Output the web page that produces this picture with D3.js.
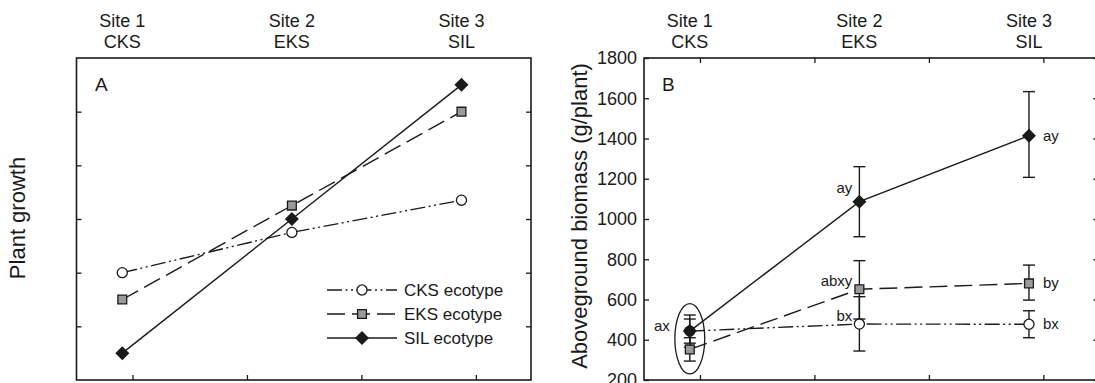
<!DOCTYPE html>
<html>
<head>
<meta charset="utf-8">
<script src="https://cdn.jsdelivr.net/npm/d3@7"></script>
<style>
  body { margin: 0; background: #fff; }
  text { font-family: "Liberation Sans", Arial, sans-serif; fill: #1a1a1a; }
</style>
</head>
<body>
<svg id="chart" width="1095" height="383"></svg>
<script>
// ---- data ----
const sites = [1, 2, 3];
const siteLine1 = ["Site 1", "Site 2", "Site 3"];
const siteLine2 = ["CKS", "EKS", "SIL"];
const ecotypes = ["CKS ecotype", "EKS ecotype", "SIL ecotype"];
const xTicks = [1.06, 1.735, 2.41, 3.085];

// panel A: conceptual plant growth (no units)
const growthCKS = [2.0, 2.75, 3.35];
const growthEKS = [1.5, 3.25, 5.0];
const growthSIL = [0.5, 3.0, 5.5];
const growthTicks = [1, 2, 3, 4, 5];

// panel B: aboveground biomass (g/plant), mean with error bar ends
const massCKS = [443, 478, 477];
const massEKS = [352, 651, 680];
const massSIL = [443, 1086, 1414];
const lowCKS = [383, 344, 410], highCKS = [503, 614, 544];
const lowEKS = [294, 503, 597], highEKS = [410, 793, 771];
const lowSIL = [363, 912, 1207], highSIL = [523, 1260, 1633];
const lettersCKS = ["", "bx", "bx"];
const lettersEKS = ["", "abxy", "by"];
const lettersSIL = ["ax", "ay", "ay"];
const massTicks = [200, 400, 600, 800, 1000, 1200, 1400, 1600, 1800];
// ellipse around site 1 (centre value, half height in g/plant)
const ringMass = [405, 175];

// ---- layout ----
const svg = d3.select("#chart");
const boxTop = 58, boxBottom = 380;
const ink = "#1a1a1a";

const styles = [
  {dash: "15,3.5,2,3.5,2,3.5", shape: "circle", fill: "#fff"},
  {dash: "18,7", shape: "square", fill: "#9a9a9a"},
  {dash: null, shape: "diamond", fill: ink}
];

function marker(sel, shape, fill) {
  let sym;
  if (shape === "circle") sym = d3.symbol(d3.symbolCircle, 80);
  else if (shape === "square") sym = d3.symbol(d3.symbolSquare, 78);
  else sym = d3.symbol(d3.symbolSquare, 74);
  sel.append("path")
    .attr("d", sym())
    .attr("transform", shape === "diamond" ? "rotate(45)" : null)
    .attr("fill", fill)
    .attr("stroke", ink)
    .attr("stroke-width", 1.3);
}

function panel(left, right, y, ticks, showYLabels) {
  const x = d3.scaleLinear().domain([0.73, 3.41]).range([left, right]);
  const g = svg.append("g");

  // inward ticks
  const bot = g.append("g").attr("transform", `translate(0,${boxBottom})`)
    .call(d3.axisTop(x).tickValues(xTicks).tickSize(5).tickFormat(""));
  const lft = g.append("g").attr("transform", `translate(${left},0)`)
    .call(d3.axisLeft(y).tickValues(ticks).tickSizeInner(-5).tickSizeOuter(0)
      .tickPadding(7).tickFormat(showYLabels ? d3.format("d") : ""));
  const rgt = g.append("g").attr("transform", `translate(${right},0)`)
    .call(d3.axisLeft(y).tickValues(ticks).tickSize(5).tickFormat(""));
  const axes = [bot, lft, rgt];
  if (showYLabels) {
    axes.push(g.append("g").attr("transform", `translate(0,${boxTop})`)
      .call(d3.axisBottom(x).tickValues(xTicks).tickSize(5).tickFormat("")));
  }
  axes.forEach(a => {
    a.select(".domain").remove();
    a.selectAll("line").attr("stroke", ink).attr("stroke-width", 1.3);
    a.selectAll("text").attr("font-size", 18).attr("fill", ink)
      .attr("font-family", '"Liberation Sans", Arial, sans-serif');
  });

  g.append("rect")
    .attr("x", left).attr("y", boxTop)
    .attr("width", right - left).attr("height", boxBottom - boxTop)
    .attr("fill", "none").attr("stroke", ink).attr("stroke-width", 1.6);

  // site labels above the box
  sites.forEach((s, i) => {
    const t = g.append("text").attr("text-anchor", "middle").attr("font-size", 18);
    t.append("tspan").attr("x", x(s)).attr("y", 27).text(siteLine1[i]);
    t.append("tspan").attr("x", x(s)).attr("y", 48).text(siteLine2[i]);
  });
  return {g, x};
}

// ---- panel A ----
const yA = d3.scaleLinear().domain([0, 6]).range([boxBottom, boxTop]);
const A = panel(76.5, 531, yA, growthTicks, false);
A.g.append("text").attr("x", 95).attr("y", 91).attr("font-size", 19).text("A");
svg.append("text")
  .attr("transform", "translate(25,218) rotate(-90)")
  .attr("text-anchor", "middle").attr("font-size", 22).text("Plant growth");

[growthCKS, growthEKS, growthSIL].forEach((vals, k) => {
  const line = d3.line().x((d, i) => A.x(sites[i])).y(d => yA(d));
  A.g.append("path").datum(vals).attr("d", line)
    .attr("fill", "none").attr("stroke", ink).attr("stroke-width", 1.4)
    .attr("stroke-dasharray", styles[k].dash);
});
[growthCKS, growthEKS, growthSIL].forEach((vals, k) => {
  vals.forEach((v, i) => {
    const m = A.g.append("g").attr("transform", `translate(${A.x(sites[i])},${yA(v)})`);
    marker(m, styles[k].shape, styles[k].fill);
  });
});

// legend
const legY = [290, 314, 338];
ecotypes.forEach((name, k) => {
  const lg = A.g.append("g").attr("transform", `translate(0,${legY[k]})`);
  lg.append("line").attr("x1", 327).attr("x2", 397)
    .attr("stroke", ink).attr("stroke-width", 1.4)
    .attr("stroke-dasharray", styles[k].dash);
  const m = lg.append("g").attr("transform", "translate(362,0)");
  marker(m, styles[k].shape, styles[k].fill);
  lg.append("text").attr("x", 404).attr("y", 6).attr("font-size", 17).text(name);
});

// ---- panel B ----
const yB = d3.scaleLinear().domain([200, 1800]).range([boxBottom, boxTop]);
const B = panel(644, 1098.5, yB, massTicks, true);
B.g.append("text").attr("x", 662).attr("y", 91).attr("font-size", 19).text("B");
svg.append("text")
  .attr("transform", "translate(587,216) rotate(-90)")
  .attr("text-anchor", "middle").attr("font-size", 22)
  .text("Aboveground biomass (g/plant)");

const means = [massCKS, massEKS, massSIL];
const lows = [lowCKS, lowEKS, lowSIL];
const highs = [highCKS, highEKS, highSIL];
const letters = [lettersCKS, lettersEKS, lettersSIL];

means.forEach((vals, k) => {
  const line = d3.line().x((d, i) => B.x(sites[i])).y(d => yB(d));
  B.g.append("path").datum(vals).attr("d", line)
    .attr("fill", "none").attr("stroke", ink).attr("stroke-width", 1.4)
    .attr("stroke-dasharray", styles[k].dash);
});

// error bars
means.forEach((vals, k) => {
  vals.forEach((v, i) => {
    const cx = B.x(sites[i]);
    const y0 = yB(lows[k][i]), y1 = yB(highs[k][i]);
    const eb = B.g.append("g").attr("stroke", ink).attr("stroke-width", 1.4);
    eb.append("line").attr("x1", cx).attr("x2", cx).attr("y1", y0).attr("y2", y1);
    eb.append("line").attr("x1", cx - 6).attr("x2", cx + 6).attr("y1", y0).attr("y2", y0);
    eb.append("line").attr("x1", cx - 6).attr("x2", cx + 6).attr("y1", y1).attr("y2", y1);
  });
});

// markers, CKS drawn under SIL at site 1
[0, 1, 2].forEach(k => {
  means[k].forEach((v, i) => {
    const m = B.g.append("g").attr("transform", `translate(${B.x(sites[i])},${yB(v)})`);
    marker(m, styles[k].shape, styles[k].fill);
  });
});

// significance letters
letters.forEach((arr, k) => {
  arr.forEach((lab, i) => {
    if (!lab) return;
    const cx = B.x(sites[i]), cy = yB(means[k][i]);
    const t = B.g.append("text").attr("font-size", 15).text(lab);
    if (i === 0) {
      t.attr("x", cx - 20).attr("y", cy).attr("text-anchor", "end");
    } else if (i === 1) {
      t.attr("x", cx - 7).attr("y", cy - (k === 2 ? 9 : 3)).attr("text-anchor", "end");
    } else {
      t.attr("x", cx + 14).attr("y", cy + 5).attr("text-anchor", "start");
    }
  });
});

// ellipse grouping the site 1 means
B.g.append("ellipse")
  .attr("cx", B.x(sites[0]))
  .attr("cy", yB(ringMass[0]))
  .attr("rx", B.x(sites[0]) - B.x(sites[0] - 0.088))
  .attr("ry", yB(ringMass[0] - ringMass[1]) - yB(ringMass[0]))
  .attr("fill", "none").attr("stroke", ink).attr("stroke-width", 1.3);
</script>
</body>
</html>
